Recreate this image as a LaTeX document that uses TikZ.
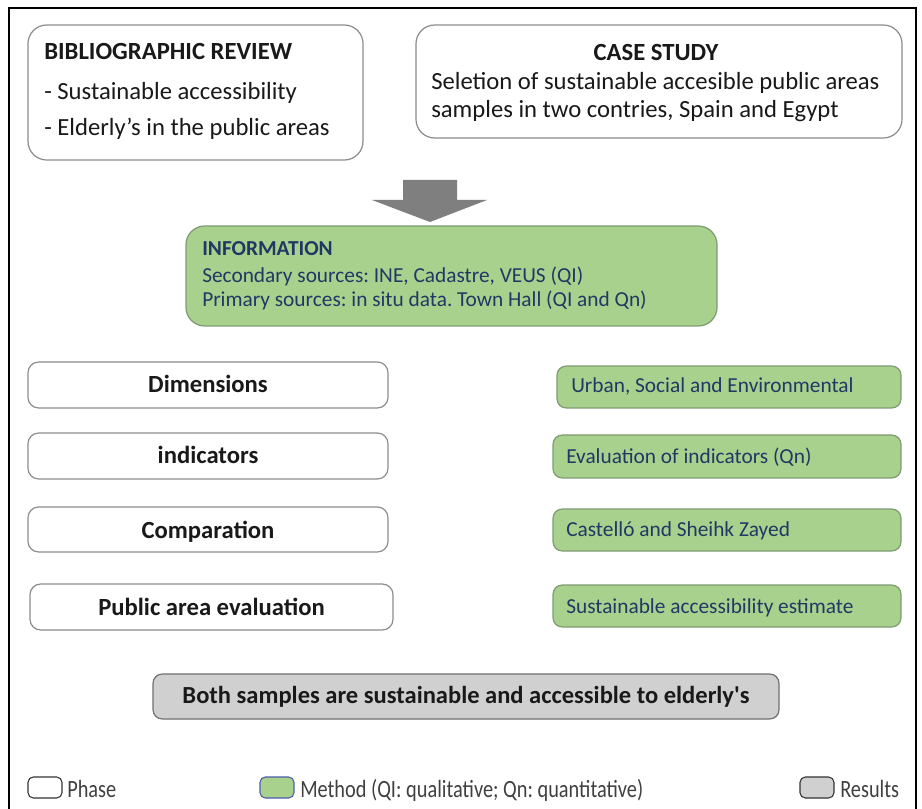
\documentclass[tikz,border=0pt]{standalone}
\usepackage{fontspec}
\setmainfont{Carlito}
\newfontfamily\condfont[FakeStretch=0.82]{Carlito}
\newfontfamily\plainfont[Mapping=none]{Carlito}
\usetikzlibrary{fit,calc}
\frenchspacing
\definecolor{greenfill}{HTML}{A9D18E}
\definecolor{greenline}{HTML}{7E9A72}
\definecolor{navytext}{HTML}{1F3864}
\definecolor{grayfill}{HTML}{D0D0D0}
\definecolor{grayline}{HTML}{8C8C8C}
\definecolor{arrowgray}{HTML}{7F7F7F}
\tikzset{
  phasebox/.style={draw=grayline, line width=0.9pt, rounded corners=8pt, fill=white, inner sep=0pt},
  bigbox/.style={phasebox, rounded corners=14pt},
  methodbox/.style={draw=greenline, line width=0.9pt, fill=greenfill, rounded corners=7pt, inner sep=0pt},
  resultbox/.style={draw=grayline!80!black, line width=0.9pt, fill=grayfill, rounded corners=7pt, inner sep=0pt},
  legendbox/.style={draw=black!80, line width=0.8pt, rounded corners=4pt, inner sep=0pt},
  btxt/.style={font=\fontsize{18.5}{22}\selectfont, text=black!90, inner sep=0pt, anchor=base west},
  btitle/.style={btxt, font=\fontsize{18.5}{22}\selectfont\bfseries},
  phasetxt/.style={font=\fontsize{18.5}{22}\selectfont\bfseries, text=black!90, inner sep=0pt, anchor=base},
  mtxt/.style={font=\fontsize{16}{19}\selectfont, text=navytext, inner sep=0pt, anchor=base west},
  legtxt/.style={font=\condfont\fontsize{18.6}{21}\selectfont, text=black!75, inner sep=0pt, anchor=base west},
}
\begin{document}
\frenchspacing
\begin{tikzpicture}[x=0.75pt, y=-0.75pt]
\useasboundingbox (0,0) rectangle (922,809);
\fill[white] (0,0) rectangle (922,809);
% outer frame
\coordinate (fbl) at (9,820);
\coordinate (ftl) at (9,8);
\coordinate (ftr) at (916,8);
\coordinate (fbr) at (916,820);
\draw[black, line width=1pt] (fbl) -- (ftl) -- (ftr) -- (fbr);

% top boxes
\node[bigbox, fit={(28,25)(363,160)}] (bib) {};
\node[btitle] (bibt) at (44,60) {BIBLIOGRAPHIC REVIEW};
\node[btxt] (bib1) at (44,100) {- Sustainable accessibility};
\node[btxt] (bib2) at (44,136) {- Elderly’s in the public areas};

\node[bigbox, fit={(416,25)(902,138)}] (case) {};
\node[btitle, anchor=base] (caset) at (656,61) {CASE STUDY};
\node[btxt] (case1) at (431,90) {Seletion of sustainable accesible public areas};
\node[btxt] (case2) at (431,118) {samples in two contries, Spain and Egypt};

% big arrow
\fill[arrowgray] (403,180) -- (457,180) -- (457,200) -- (487,200) -- (430,222) -- (372,200) -- (403,200) -- cycle;

% information
\node[methodbox, rounded corners=14pt, fit={(186,226)(717,326)}] (info) {};
\node[mtxt, font=\fontsize{16}{19}\selectfont\bfseries] (infot) at (202,256) {INFORMATION};
\node[mtxt] (info1) at (202,283) {Secondary sources: INE, Cadastre, VEUS (QI)};
\node[mtxt] (info2) at (202,307) {Primary sources: in situ data. Town Hall (QI and Qn)};

% phases
\node[phasebox, fit={(28,362)(388,408)}] (p1) {};
\node[phasetxt] at ($(p1.center|-0,393)$) (p1t) {Dimensions};
\node[phasebox, fit={(28,433)(388,479)}] (p2) {};
\node[phasetxt] at ($(p2.center|-0,464)$) (p2t) {indicators};
\node[phasebox, fit={(28,507)(388,552)}] (p3) {};
\node[phasetxt] at ($(p3.center|-0,538)$) (p3t) {Comparation};
\node[phasebox, fit={(30,584)(393,630)}] (p4) {};
\node[phasetxt] at ($(p4.center|-0,615)$) (p4t) {Public area evaluation};

% methods
\node[methodbox, fit={(557,366)(901,408)}] (m1) {};
\node[mtxt] at (571,393) (m1t) {Urban, Social and Environmental};
\node[methodbox, fit={(553,435)(901,478)}] (m2) {};
\node[mtxt] at (566,464) (m2t) {Evaluation of indicators (Qn)};
\node[methodbox, fit={(553,509)(901,551)}] (m3) {};
\node[mtxt] at (566,537) (m3t) {Castelló and Sheihk Zayed};
\node[methodbox, fit={(553,585)(901,627)}] (m4) {};
\node[mtxt] at (566,613) (m4t) {Sustainable accessibility estimate};

% result
\node[resultbox, fit={(153,674)(779,719)}] (res) {};
\node[font=\plainfont\fontsize{18.4}{22}\selectfont\bfseries, text=black!90, inner sep=0pt, anchor=base] at ($(res.center|-0,703)$) (rest) {Both samples are sustainable and accessible to elderly's};

% legend
\node[legendbox, fit={(28,777)(62,798)}] (lg1) {};
\node[legtxt] at (67,797) (lg1t) {Phase};
\node[legendbox, fill=greenfill, draw=greenline!60!blue, fit={(260,777)(294,798)}] (lg2) {};
\node[legtxt] at (300,797) (lg2t) {Method (QI: qualitative; Qn: quantitative)};
\node[legendbox, fill=grayfill, fit={(800,777)(834,798)}] (lg3) {};
\node[legtxt] at (840,797) (lg3t) {Results};
\end{tikzpicture}
\end{document}
